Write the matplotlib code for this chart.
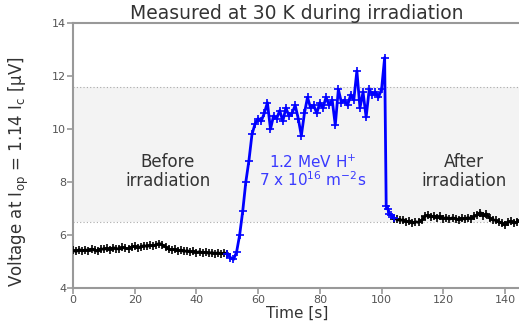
import numpy as np
import matplotlib
matplotlib.use("Agg")
import matplotlib.pyplot as plt

# before irradiation (black), 1 s sampling
t_before = np.arange(0, 51, 1.0)
v_before = [5.42, 5.38, 5.45, 5.40, 5.44, 5.41, 5.47, 5.43, 5.39, 5.48, 5.46,
            5.50, 5.45, 5.52, 5.49, 5.47, 5.53, 5.50, 5.48, 5.55, 5.58, 5.52,
            5.56, 5.60, 5.57, 5.61, 5.59, 5.64, 5.68, 5.62, 5.55, 5.47, 5.44,
            5.46, 5.40, 5.43, 5.38, 5.41, 5.36, 5.39, 5.34, 5.37, 5.33, 5.35,
            5.31, 5.34, 5.30, 5.33, 5.29, 5.32, 5.30]

# during irradiation (blue)
t_irr = list(np.arange(50, 102, 1.0)) + [101.5, 102.0, 102.5, 103.0, 104.0]
v_irr = [5.30, 5.15, 5.08, 5.35, 6.00, 6.90, 8.00, 8.80, 9.80, 10.20,
         10.40, 10.30, 10.60, 11.00, 10.00, 10.50, 10.40, 10.70, 10.30, 10.80,
         10.50, 10.60, 10.90, 10.40, 9.75, 10.60, 11.20, 10.80, 10.90, 10.60,
         11.00, 10.80, 11.20, 10.90, 11.10, 10.15, 11.50, 11.00, 11.10, 10.90,
         11.30, 11.10, 12.20, 10.80, 11.40, 10.45, 11.50, 11.30, 11.40, 11.20,
         11.50, 12.70, 7.10, 7.00, 6.80, 6.75, 6.65]

# after irradiation (black)
t_after = np.arange(104, 146, 1.0)
v_after = [6.62, 6.60, 6.55, 6.58, 6.50, 6.53, 6.45, 6.50, 6.48, 6.55,
           6.70, 6.75, 6.68, 6.72, 6.65, 6.70, 6.62, 6.66, 6.60, 6.65,
           6.62, 6.58, 6.64, 6.60, 6.66, 6.62, 6.70, 6.75, 6.85, 6.72,
           6.80, 6.65, 6.58, 6.55, 6.50, 6.45, 6.38, 6.48, 6.52, 6.45,
           6.50, 6.55]

band_lo, band_hi = 6.5, 11.6

plt.rcParams['font.family'] = ['DejaVu Sans']
txt = '#333333'

fig = plt.figure(figsize=(5.19, 3.21), dpi=100)
ax = fig.add_axes([0.1407, 0.1028, 0.862, 0.825])

ax.axhspan(band_lo, band_hi, color='#f3f3f3', zorder=0, lw=0)
ax.axhline(band_lo, color='#aaaaaa', ls=(0, (1, 2)), lw=0.8, zorder=1)
ax.axhline(band_hi, color='#aaaaaa', ls=(0, (1, 2)), lw=0.8, zorder=1)

ax.plot(t_before, v_before, color='black', marker='+', ms=6, mew=1.2, lw=2, zorder=3)
ax.plot(t_after, v_after, color='black', marker='+', ms=6, mew=1.2, lw=2, zorder=3)
ax.plot(t_irr, v_irr, color='#0000ff', marker='+', ms=6, mew=1.2, lw=2, zorder=4)

ax.text(30.8, 8.4, 'Before\nirradiation', ha='center', va='center',
        fontsize=12, color=txt, linespacing=1.05)
ax.text(126.7, 8.4, 'After\nirradiation', ha='center', va='center',
        fontsize=12, color=txt, linespacing=1.05)
ax.text(77.8, 8.4, '1.2 MeV H$^{+}$\n7 x 10$^{16}$ m$^{-2}$s', ha='center',
        va='center', fontsize=11, color='#3a3aff', linespacing=1.0)

ax.set_xlim(0, 145)
ax.set_ylim(4, 14)
ax.set_xticks([0, 20, 40, 60, 80, 100, 120, 140])
ax.set_yticks([4, 6, 8, 10, 12, 14])

ax.spines['right'].set_visible(False)
for s in ['left', 'bottom', 'top']:
    ax.spines[s].set_color('#999999')
    ax.spines[s].set_linewidth(1.5)
ax.tick_params(colors='#999999', labelcolor='#555555', labelsize=8,
               width=1.2, length=4, pad=1)

ax.set_title('Measured at 30 K during irradiation', fontsize=13.5, color=txt, pad=2)
ax.set_xlabel('Time [s]', fontsize=11, color=txt)
ax.xaxis.set_label_coords(0.502, -0.068)
ax.set_ylabel('Voltage at I$_{\\mathrm{op}}$ = 1.14 I$_{\\mathrm{c}}$ [μV]',
              fontsize=12, color=txt)
ax.yaxis.set_label_coords(-0.095, 0.44)

fig.savefig('out.png', dpi=100)
